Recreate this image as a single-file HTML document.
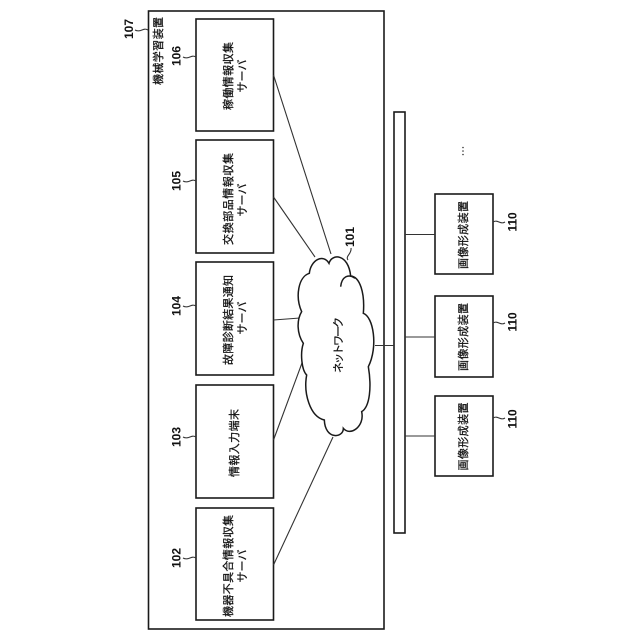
<!DOCTYPE html>
<html><head><meta charset="utf-8"><style>
html,body{margin:0;padding:0;background:#fff;width:640px;height:640px;overflow:hidden}
svg{display:block}
text{font-family:"Liberation Sans","Noto Sans CJK JP",sans-serif;fill:#111;text-anchor:middle}
.t{font-size:11px;stroke:#111;stroke-width:.25}
.n{font-size:12px;font-weight:bold;font-family:"Liberation Sans",sans-serif}
.l{fill:none;stroke:#333;stroke-width:1.1}
.b{fill:#fff;stroke:#1a1a1a;stroke-width:1.6}
</style></head><body>
<svg width="640" height="640" viewBox="0 0 640 640" xmlns="http://www.w3.org/2000/svg">
<rect class="b" x="148.500" y="11" width="235.500" height="618"/>
<rect class="b" x="196" y="19" width="77.500" height="112"/>
<rect class="b" x="196" y="140" width="77.500" height="113"/>
<rect class="b" x="196" y="262" width="77.500" height="113"/>
<rect class="b" x="196" y="385" width="77.500" height="113"/>
<rect class="b" x="196" y="508" width="77.500" height="112"/>
<rect class="b" x="394" y="112" width="11" height="421"/>
<rect class="b" x="435" y="194" width="58" height="80"/>
<rect class="b" x="435" y="296" width="58" height="81"/>
<rect class="b" x="435" y="396" width="58" height="80"/>
<path class="l" d="M273.500 75L331 254M273.500 197L315 257M273.500 320L300 318M273.500 440L302 363M273.500 565L333 437M375 345.500H394M405 234.500H435M405 337H435M405 436H435"/>
<g transform="translate(280 220) scale(.33333)">
<path d="M88 160C92 120 130 100 147 130C155 100 205 100 212 168C240 170 255 220 250 280C280 290 295 380 265 440C275 500 270 560 245 575C255 620 210 650 190 625C190 655 135 660 133 600C90 590 70 520 80 465C65 450 60 400 70 370C50 340 50 300 65 275C45 230 55 170 88 160Z" fill="#fff" stroke="#1a1a1a" stroke-width="4.500"/>
<path d="M182 200C185 170 205 160 225 175" fill="none" stroke="#1a1a1a" stroke-width="4.500"/>
</g>
<path class="l" d="M348 260C345 256 352 254 351 248M196 57C191 54 189 60 183 57M148 30C143 27 141 33 135 30M196 181C191 178 189 184 183 181M196 306C191 303 189 309 183 306M196 437C191 434 189 440 183 437M196 558C191 555 189 561 183 558M493 222C498 219 500 225 505 222M493 323C498 320 500 326 505 323M493 418C498 415 500 421 505 418"/>
<g transform="translate(162 51) rotate(-90)"><text class="t" textLength="68" lengthAdjust="spacing">機械学習装置</text></g>
<g transform="translate(232 76) rotate(-90)"><text class="t" textLength="68" lengthAdjust="spacing">稼働情報収集</text></g>
<g transform="translate(246 76) rotate(-90)"><text class="t">サーバ</text></g>
<g transform="translate(232 199) rotate(-90)"><text class="t" textLength="92" lengthAdjust="spacing">交換部品情報収集</text></g>
<g transform="translate(246 200) rotate(-90)"><text class="t">サーバ</text></g>
<g transform="translate(232 320) rotate(-90)"><text class="t" textLength="90" lengthAdjust="spacing">故障診断結果通知</text></g>
<g transform="translate(246 318) rotate(-90)"><text class="t">サーバ</text></g>
<g transform="translate(238 443) rotate(-90)"><text class="t" textLength="68" lengthAdjust="spacing">情報入力端末</text></g>
<g transform="translate(232 566) rotate(-90)"><text class="t" textLength="102" lengthAdjust="spacing">機器不具合情報収集</text></g>
<g transform="translate(246 566) rotate(-90)"><text class="t">サーバ</text></g>
<g transform="translate(342 345) rotate(-90)"><text class="t" textLength="56" lengthAdjust="spacing">ネットワーク</text></g>
<g transform="translate(467 235) rotate(-90)"><text class="t" textLength="68" lengthAdjust="spacing">画像形成装置</text></g>
<g transform="translate(467 337) rotate(-90)"><text class="t" textLength="68" lengthAdjust="spacing">画像形成装置</text></g>
<g transform="translate(467 436.500) rotate(-90)"><text class="t" textLength="68" lengthAdjust="spacing">画像形成装置</text></g>
<g transform="translate(133 29) rotate(-90)"><text class="n">107</text></g>
<g transform="translate(180.500 56) rotate(-90)"><text class="n">106</text></g>
<g transform="translate(180.500 181) rotate(-90)"><text class="n">105</text></g>
<g transform="translate(180.500 306) rotate(-90)"><text class="n">104</text></g>
<g transform="translate(180.500 437) rotate(-90)"><text class="n">103</text></g>
<g transform="translate(180.500 558) rotate(-90)"><text class="n">102</text></g>
<g transform="translate(354 237) rotate(-90)"><text class="n">101</text></g>
<g transform="translate(516.500 222) rotate(-90)"><text class="n">110</text></g>
<g transform="translate(516.500 322) rotate(-90)"><text class="n">110</text></g>
<g transform="translate(516.500 419) rotate(-90)"><text class="n">110</text></g>
<g fill="#333"><circle cx="463" cy="147.500" r=".8"/><circle cx="463" cy="151" r=".8"/><circle cx="463" cy="154.500" r=".8"/></g>
</svg>
</body></html>
